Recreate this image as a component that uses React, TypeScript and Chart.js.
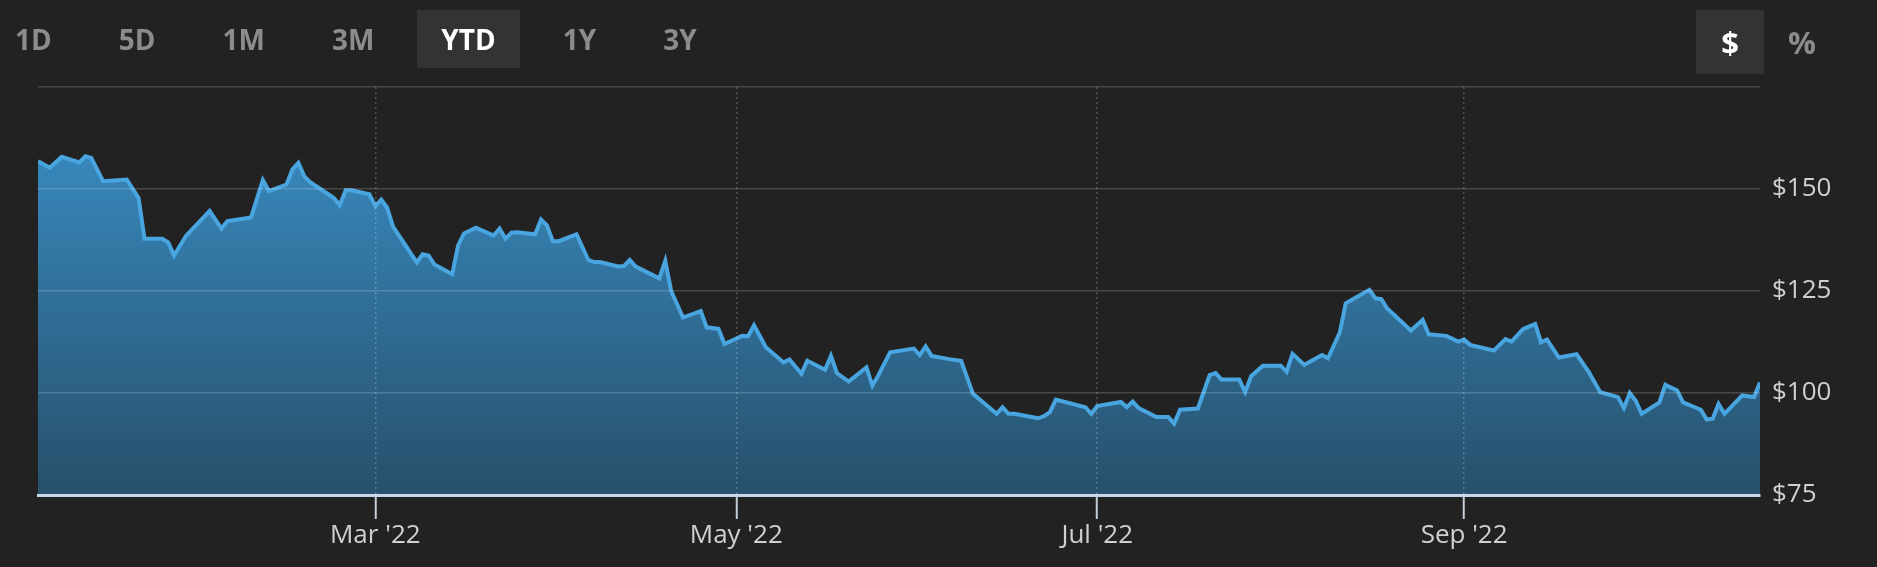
import React, { useEffect, useRef } from "react";
import { Chart, registerables } from "chart.js";

Chart.register(...registerables);

// ---- data ----
const DATES = [
  "2022-01-03", "2022-01-05", "2022-01-07", "2022-01-10", "2022-01-11", "2022-01-12", "2022-01-14",
  "2022-01-18", "2022-01-20", "2022-01-21", "2022-01-24", "2022-01-25", "2022-01-26", "2022-01-28",
  "2022-02-01", "2022-02-03", "2022-02-04", "2022-02-08", "2022-02-10", "2022-02-11", "2022-02-14",
  "2022-02-15", "2022-02-16", "2022-02-17", "2022-02-18", "2022-02-22", "2022-02-23", "2022-02-24",
  "2022-02-25", "2022-02-28", "2022-03-01", "2022-03-02", "2022-03-03", "2022-03-04", "2022-03-08",
  "2022-03-09", "2022-03-10", "2022-03-11", "2022-03-14", "2022-03-15", "2022-03-16", "2022-03-18",
  "2022-03-21", "2022-03-22", "2022-03-23", "2022-03-24", "2022-03-25", "2022-03-28", "2022-03-29",
  "2022-03-30", "2022-03-31", "2022-04-01", "2022-04-04", "2022-04-06", "2022-04-07", "2022-04-08",
  "2022-04-11", "2022-04-12", "2022-04-13", "2022-04-14", "2022-04-18", "2022-04-19", "2022-04-20",
  "2022-04-22", "2022-04-25", "2022-04-26", "2022-04-28", "2022-04-29", "2022-05-02", "2022-05-03",
  "2022-05-04", "2022-05-06", "2022-05-09", "2022-05-10", "2022-05-12", "2022-05-13", "2022-05-16",
  "2022-05-17", "2022-05-18", "2022-05-20", "2022-05-23", "2022-05-24", "2022-05-25", "2022-05-27",
  "2022-05-31", "2022-06-01", "2022-06-02", "2022-06-03", "2022-06-06", "2022-06-08", "2022-06-10",
  "2022-06-14", "2022-06-15", "2022-06-16", "2022-06-17", "2022-06-21", "2022-06-22", "2022-06-23",
  "2022-06-24", "2022-06-29", "2022-06-30", "2022-07-01", "2022-07-05", "2022-07-06", "2022-07-07",
  "2022-07-08", "2022-07-11", "2022-07-13", "2022-07-14", "2022-07-15", "2022-07-18", "2022-07-20",
  "2022-07-21", "2022-07-22", "2022-07-25", "2022-07-26", "2022-07-27", "2022-07-29", "2022-08-01",
  "2022-08-02", "2022-08-03", "2022-08-05", "2022-08-08", "2022-08-09", "2022-08-11", "2022-08-12",
  "2022-08-16", "2022-08-17", "2022-08-18", "2022-08-19", "2022-08-23", "2022-08-25", "2022-08-26",
  "2022-08-29", "2022-08-31", "2022-09-01", "2022-09-02", "2022-09-06", "2022-09-08", "2022-09-09",
  "2022-09-11", "2022-09-13", "2022-09-14", "2022-09-15", "2022-09-17", "2022-09-20", "2022-09-22",
  "2022-09-24", "2022-09-27", "2022-09-28", "2022-09-29", "2022-09-30", "2022-10-01", "2022-10-04",
  "2022-10-05", "2022-10-07", "2022-10-08", "2022-10-11", "2022-10-12", "2022-10-13", "2022-10-14",
  "2022-10-15", "2022-10-18", "2022-10-20", "2022-10-21",
];

const PRICES = [
  156.8, 155.2, 157.9, 156.5, 158.0, 157.6, 151.9,
  152.3, 147.8, 137.8, 137.8, 136.9, 133.7, 138.5,
  144.6, 140.3, 142.1, 143.0, 152.2, 149.5, 151.1,
  154.8, 156.4, 153.1, 151.7, 147.8, 146.0, 149.7,
  149.7, 148.7, 145.8, 147.4, 145.4, 140.8, 132.0,
  134.0, 133.7, 131.5, 129.1, 136.2, 139.1, 140.5,
  138.6, 140.3, 137.8, 139.3, 139.4, 138.9, 142.5,
  141.1, 137.2, 137.2, 138.9, 132.6, 132.1, 132.1,
  131.0, 131.1, 132.6, 131.0, 128.1, 132.4, 125.0,
  118.5, 120.1, 116.1, 115.7, 112.0, 114.0, 113.9,
  116.6, 111.2, 107.5, 108.2, 104.7, 107.9, 105.7,
  109.1, 104.9, 102.8, 106.3, 101.8, 104.3, 110.0,
  110.9, 109.3, 111.4, 109.1, 108.3, 107.9, 99.8,
  94.9, 96.5, 94.9, 94.9, 93.8, 94.3, 95.3,
  98.4, 96.5, 94.9, 96.8, 97.8, 96.5, 97.9,
  96.3, 94.1, 94.1, 92.5, 95.9, 96.2, 104.4,
  104.9, 103.3, 103.3, 100.2, 104.1, 106.7, 106.7,
  105.2, 109.6, 106.9, 109.3, 108.5, 114.9, 122.0,
  125.3, 123.2, 123.0, 120.7, 115.3, 117.9, 114.4,
  114.0, 112.6, 113.1, 111.8, 110.4, 113.2, 112.6,
  115.7, 116.9, 112.4, 113.1, 108.7, 109.5, 105.3,
  100.2, 99.0, 96.3, 100.0, 98.1, 94.9, 97.7,
  102.0, 100.6, 97.7, 95.9, 93.5, 93.7, 97.3,
  94.9, 99.4, 99.0, 102.6,
];

const MONTH_TICKS = ["2022-03-01", "2022-05-01", "2022-07-01", "2022-09-01"];
const MONTH_LABELS = ["Mar '22", "May '22", "Jul '22", "Sep '22"];
const Y_TICKS = [75, 100, 125, 150, 175];
const Y_LABELS = ["$75", "$100", "$125", "$150", ""];
const RANGES = ["1D", "5D", "1M", "3M", "YTD", "1Y", "3Y"];
const ACTIVE_RANGE = "YTD";
const UNITS = ["$", "%"];
const ACTIVE_UNIT = "$";

const dayOf = (s: string) =>
  (Date.UTC(+s.slice(0, 4), +s.slice(5, 7) - 1, +s.slice(8, 10)) - Date.UTC(2022, 0, 1)) / 86400000;

const FONT = "'Open Sans', 'DejaVu Sans', sans-serif";

export default function App() {
  const canvasRef = useRef<HTMLCanvasElement | null>(null);

  useEffect(() => {
    document.body.style.margin = "0";
    document.body.style.background = "#222222";
    const canvas = canvasRef.current;
    if (!canvas) return;
    const points = DATES.map((d, i) => ({ x: dayOf(d), y: PRICES[i] }));
    const chart = new Chart(canvas, {
      type: "line",
      data: {
        datasets: [
          {
            data: points,
            borderColor: "#49a5e0",
            borderWidth: 4,
            pointRadius: 0,
            tension: 0,
            fill: "start",
            backgroundColor: (ctx: any) => {
              const c = ctx.chart;
              const area = c.chartArea;
              if (!area) return "rgba(0,0,0,0)";
              const g = c.ctx.createLinearGradient(0, area.top, 0, area.bottom);
              g.addColorStop(0, "#3a92cb");
              g.addColorStop(1, "#27506b");
              return g;
            },
          },
        ],
      },
      options: {
        animation: false,
        responsive: true,
        maintainAspectRatio: false,
        layout: { padding: { left: 38, top: 87, right: 0, bottom: 0 } },
        plugins: { legend: { display: false }, tooltip: { enabled: false } },
        scales: {
          x: {
            type: "linear",
            min: dayOf(DATES[0]),
            max: dayOf(DATES[DATES.length - 1]),
            afterBuildTicks: (s: any) => {
              s.ticks = MONTH_TICKS.map((d) => ({ value: dayOf(d) }));
            },
            afterFit: (s: any) => {
              s.height = 72;
            },
            ticks: {
              autoSkip: false,
              maxRotation: 0,
              padding: 1,
              color: "#d0d0d0",
              font: { family: FONT, size: 26 },
              callback: (v: any) => {
                const i = MONTH_TICKS.findIndex((d) => dayOf(d) === v);
                return i >= 0 ? MONTH_LABELS[i] : "";
              },
            },
            grid: {
              color: "rgba(255,255,255,0.22)",
              lineWidth: 1.5,
              tickLength: 24,
              tickColor: "#c5d0da",
              tickWidth: 2,
              tickBorderDash: [],
              z: 1,
            },
            border: { display: true, color: "#c2d4e6", width: 3, dash: [2, 3], z: 1 },
          },
          y: {
            position: "right",
            min: 75,
            max: 175,
            afterBuildTicks: (s: any) => {
              s.ticks = Y_TICKS.map((v) => ({ value: v }));
            },
            afterFit: (s: any) => {
              s.width = 117;
            },
            ticks: {
              padding: 12,
              color: "#d0d0d0",
              font: { family: FONT, size: 26 },
              callback: (v: any) => {
                const i = Y_TICKS.indexOf(v);
                return i >= 0 ? Y_LABELS[i] : "";
              },
            },
            grid: { color: "rgba(255,255,255,0.17)", lineWidth: 1.5, drawTicks: false, z: 1 },
            border: { display: false },
          },
        },
      },
    } as any);
    return () => chart.destroy();
  }, []);

  return (
    <div
      style={{
        position: "fixed",
        left: 0,
        top: 0,
        width: 1877,
        height: 567,
        background: "#222222",
        overflow: "hidden",
        fontFamily: FONT,
      }}
    >
      <div style={{ position: "absolute", left: 0, top: 0, width: 1877, height: 567 }}>
        <canvas ref={canvasRef} />
      </div>
      <div
        style={{
          position: "absolute",
          left: -9,
          top: 10,
          display: "flex",
          gap: 19,
        }}
      >
        {RANGES.map((r) => (
          <div
            key={r}
            style={{
              padding: "0 24px",
              height: 58,
              lineHeight: "58px",
              fontWeight: 700,
              fontSize: 28,
              color: r === ACTIVE_RANGE ? "#ffffff" : "#8c8c8c",
              background: r === ACTIVE_RANGE ? "#333333" : "transparent",
            }}
          >
            {r}
          </div>
        ))}
      </div>
      <div style={{ position: "absolute", left: 1696, top: 10, display: "flex" }}>
        {UNITS.map((u) => (
          <div
            key={u}
            style={{
              width: u === ACTIVE_UNIT ? 68 : 76,
              height: 64,
              lineHeight: "64px",
              textAlign: "center",
              fontWeight: 700,
              fontSize: 31,
              color: u === ACTIVE_UNIT ? "#ffffff" : "#8c8c8c",
              background: u === ACTIVE_UNIT ? "#333333" : "transparent",
            }}
          >
            {u}
          </div>
        ))}
      </div>
    </div>
  );
}
